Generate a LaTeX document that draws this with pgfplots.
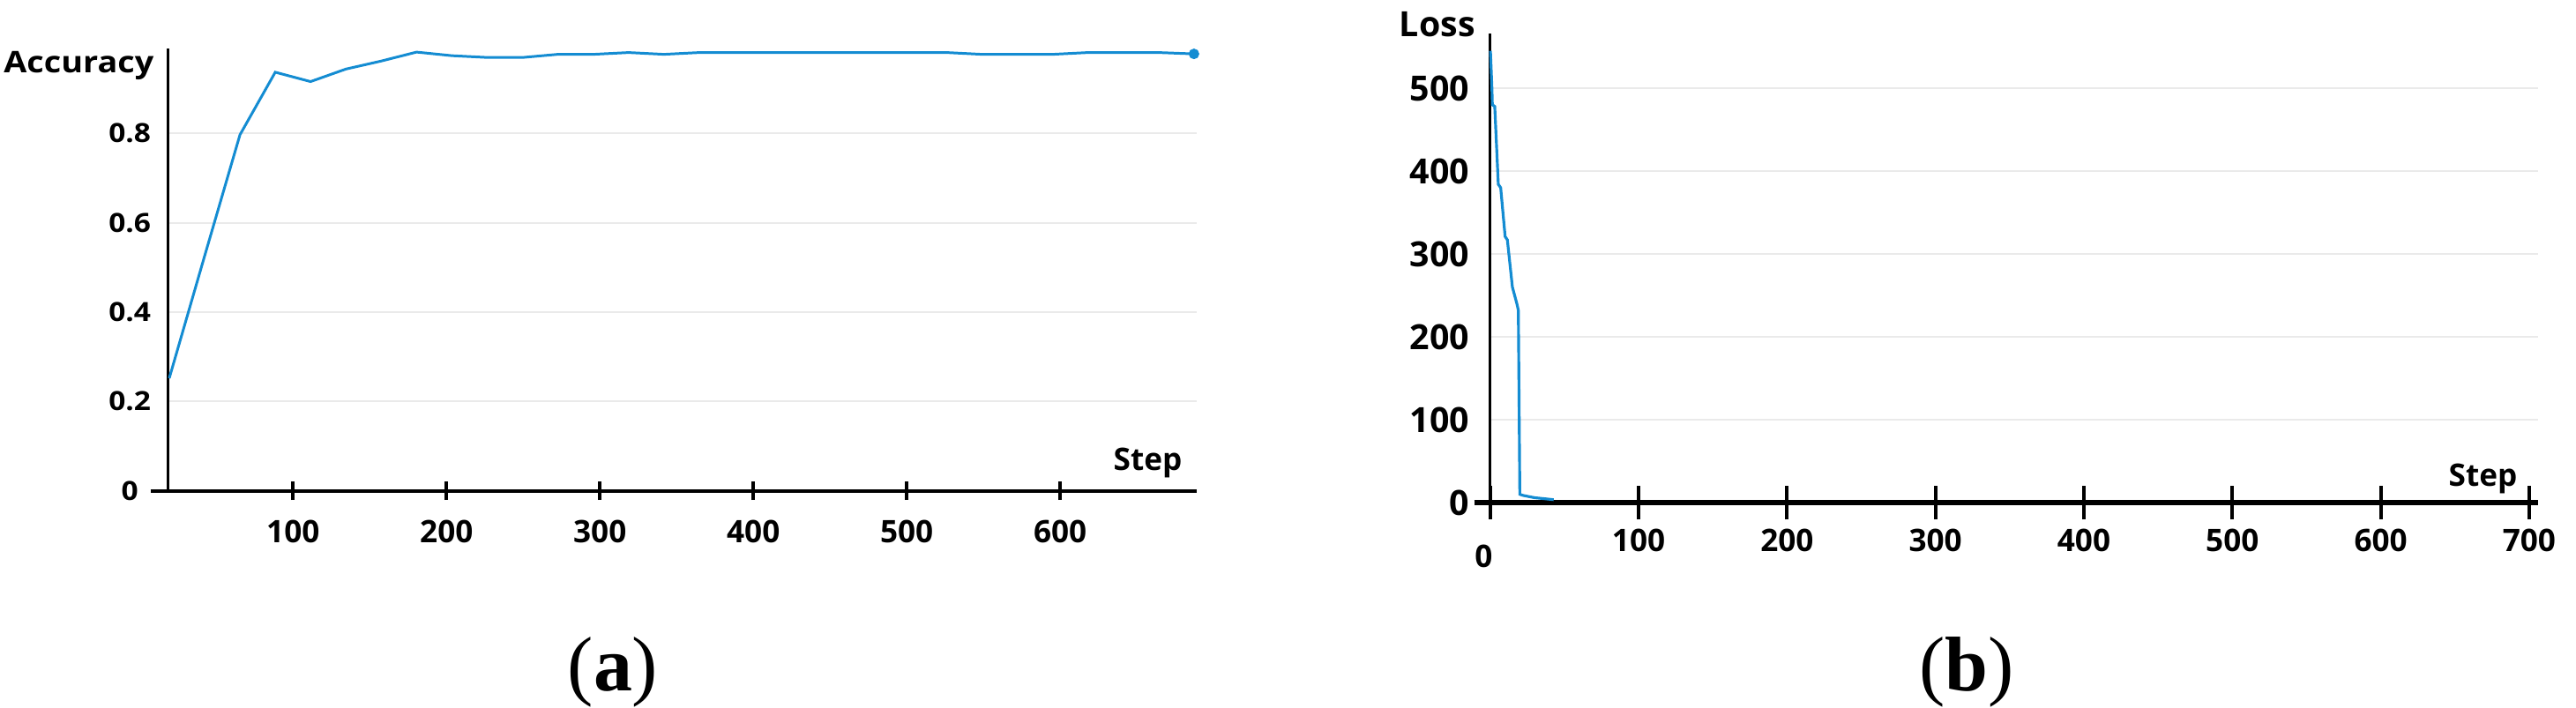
\documentclass[border=0pt]{standalone}
\usepackage{fontspec}
\setmainfont{Open Sans}
\newfontfamily\widefont{Open Sans}[FakeStretch=1.12]
\newfontfamily\capfont{Liberation Serif}
\usepackage{pgfplots}
\pgfplotsset{compat=1.18}
\definecolor{curve}{RGB}{20,140,210}
\definecolor{gridc}{RGB}{234,234,234}

\pgfplotstableread{
step acc
19.3 0.252
42.3 0.525
65.4 0.797
88.4 0.937
111.4 0.916
134.4 0.944
157.5 0.962
180.5 0.982
203.5 0.974
226.6 0.970
249.6 0.970
272.6 0.977
295.7 0.977
318.7 0.981
341.7 0.977
364.8 0.981
387.8 0.981
410.8 0.981
433.8 0.981
456.9 0.981
479.9 0.981
502.9 0.981
526.0 0.981
549.0 0.977
572.0 0.977
595.1 0.977
618.1 0.981
641.1 0.981
664.2 0.981
687.2 0.978
}\acctable

\pgfplotstableread{
step loss
0.2 545
1.2 500
1.5 480
3.1 478
5.5 384
7.1 380
10.1 321
11.6 317
15.0 260
18.0 240
19.0 232
20.0 10
22.0 8.7
29.9 5.9
42.8 3.5
}\losstable

\begin{document}
\begin{tikzpicture}
\pgfplotsset{
  common/.style={
    scale only axis,
    axis x line*=bottom,
    axis y line*=left,
    y axis line style={line width=1pt, -},
    ymajorgrids,
    grid style={gridc, line width=0.6pt},
    ytick style={draw=none},
    xtick style={line width=1.15pt, black},
    tick align=center,
    xtick pos=bottom, ytick pos=left,
    clip=false,
    scaled ticks=false,
    /pgf/number format/assume math mode=true,
    every tick label/.append style={inner sep=0pt},
  }
}
% (a) Accuracy
\begin{axis}[common,
  at={(1.907cm,-5.567cm)}, anchor=south west,
  width=11.663cm, height=5.017cm,
  xmin=18.6, xmax=689, ymin=0, ymax=0.99,
  x axis line style={line width=1.2pt, -, shorten <=-0.2cm},
  major tick length=0.21cm,
  xtick={100,200,300,400,500,600},
  ytick={0,0.2,0.4,0.6,0.8},
  yticklabels={0,0.2,0.4,0.6,0.8},
  yticklabel style={font=\widefont\bfseries\fontsize{8.5}{10}\selectfont, anchor=center, xshift=-0.33cm},
  xticklabel style={font=\bfseries\fontsize{10}{12}\selectfont, anchor=center, yshift=-0.36cm},
  ylabel={Accuracy},
  every axis y label/.style={at={(rel axis cs:0,1)}, anchor=base east, xshift=-0.157cm, yshift=-0.277cm, font=\widefont\bfseries\fontsize{9.6}{11}\selectfont, inner sep=0pt},
  xlabel={Step},
  every axis x label/.style={at={(rel axis cs:1,0)}, anchor=base east, xshift=-0.16cm, yshift=0.234cm, font=\bfseries\fontsize{10}{12}\selectfont, inner sep=0pt},
]
\addplot[curve, line width=0.85pt] table[x=step, y=acc] {\acctable};
\addplot[curve, only marks, mark=*, mark size=1.5pt] coordinates {(687.2,0.978)};
\end{axis}
% (b) Loss
\begin{axis}[common,
  at={(16.897cm,-5.70cm)}, anchor=south west,
  width=11.883cm, height=5.32cm,
  xmin=0, xmax=706, ymin=0, ymax=566,
  x axis line style={line width=1.8pt, -, shorten <=-0.18cm},
  major tick length=0.38cm,
  xtick={0,100,200,300,400,500,600,700},
  xticklabels={{\kern-0.146cm\raisebox{-0.185cm}[\height][0pt]{0}},100,200,300,400,500,600,700},
  ytick={0,100,200,300,400,500},
  yticklabel style={font=\bfseries\fontsize{11.2}{13}\selectfont, anchor=east, xshift=-0.04cm},
  xticklabel style={font=\bfseries\fontsize{10}{12}\selectfont, anchor=center, yshift=-0.235cm},
  ylabel={Loss},
  every axis y label/.style={at={(rel axis cs:0,1)}, anchor=base east, xshift=-0.163cm, yshift=-0.037cm, font=\bfseries\fontsize{11.2}{13}\selectfont, inner sep=0pt},
  xlabel={Step},
  every axis x label/.style={at={(rel axis cs:1,0)}, anchor=base east, xshift=-0.23cm, yshift=0.183cm, font=\bfseries\fontsize{10}{12}\selectfont, inner sep=0pt},
]
\addplot[curve, line width=0.9pt] table[x=step, y=loss] {\losstable};
\end{axis}
\node[font=\capfont\fontsize{25}{30}\selectfont, anchor=base] at (6.95cm,-7.83cm) {(\textbf{a})};
\node[font=\capfont\fontsize{25}{30}\selectfont, anchor=base] at (22.3cm,-7.83cm) {(\textbf{b})};
\pgfresetboundingbox
\path (0cm,0cm) rectangle (29.21cm,-8.02cm);
\end{tikzpicture}
\end{document}
